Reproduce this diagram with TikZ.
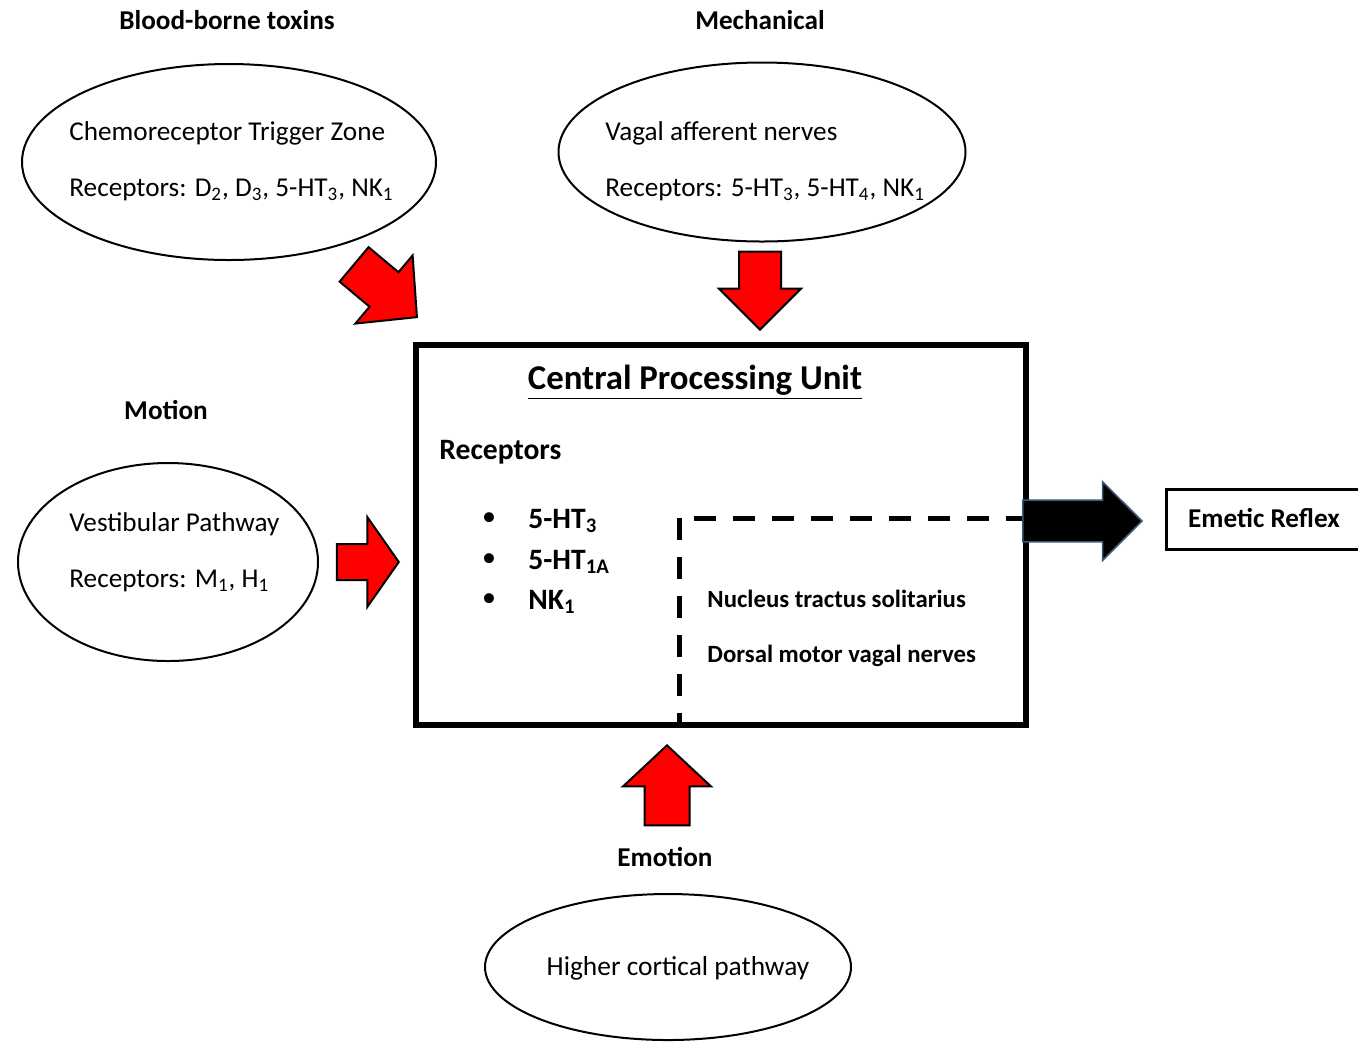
\documentclass[tikz,border=0pt]{standalone}
\usepackage{fontspec}
\setmainfont{Carlito}
\usetikzlibrary{shapes.geometric,shapes.arrows}
\begin{document}
\begin{tikzpicture}[x=0.5pt,y=-0.5pt,
  oval/.style={draw, ellipse, line width=1pt, inner sep=0pt},
  head/.style={font=\fontsize{13.6}{15}\selectfont\bfseries, inner sep=0pt},
  txt/.style={font=\fontsize{13.6}{15}\selectfont, anchor=base west, inner sep=0pt},
  btxt/.style={font=\fontsize{14.8}{16}\selectfont\bfseries, anchor=base west, inner sep=0pt},
  stxt/.style={font=\fontsize{12.4}{14}\selectfont\bfseries, anchor=base west, inner sep=0pt},
  blockarrow/.style={single arrow, anchor=tip, inner xsep=0pt, text height=0pt, text depth=0pt},
  redarrow/.style={blockarrow, draw=black, fill=red, line width=1pt},
  dashline/.style={line width=2.5pt, dash pattern=on 11pt off 8.5pt}
]
\useasboundingbox (0,0) rectangle (1358,1041);

% ellipses
\node[oval, minimum width=207pt, minimum height=98pt] (ctz) at (229,162) {};
\node[oval, minimum width=203.5pt, minimum height=89.5pt] (vagal) at (762,152) {};
\node[oval, minimum width=150pt, minimum height=99pt] (vest) at (168,562) {};
\node[oval, minimum width=183pt, minimum height=73pt] (cort) at (668,967) {};

% headings
\node[head] (hblood) at (227,20) {Blood-borne toxins};
\node[head] (hmech) at (760,20) {Mechanical};
\node[head] (hmotion) at (166,410) {Motion};
\node[head] (hemotion) at (665,857) {Emotion};

% ellipse texts
\node[txt] (ctz1) at (69,140) {Chemoreceptor Trigger Zone};
\node[txt] (ctz2) at (69,196) {Receptors: D\textsubscript{2}, D\textsubscript{3}, 5-HT\textsubscript{3}, NK\textsubscript{1}};
\node[txt] (vag1) at (605,140) {Vagal afferent nerves};
\node[txt] (vag2) at (605,196) {Receptors: 5-HT\textsubscript{3}, 5-HT\textsubscript{4}, NK\textsubscript{1}};
\node[txt] (ves1) at (69,531) {Vestibular Pathway};
\node[txt] (ves2) at (69,587) {Receptors: M\textsubscript{1}, H\textsubscript{1}};
\node[font=\fontsize{13.7}{15}\selectfont, inner sep=0pt] (cort1) at (678,968) {Higher cortical pathway};

% central box
\node[draw, line width=3pt, minimum width=305pt, minimum height=190pt, inner sep=0pt] (cpu) at (721,535) {};
\node[font=\fontsize{17.4}{19}\selectfont\bfseries, inner sep=0pt] (title) at (695,382) {\underline{Central Processing Unit}};
\node[btxt] (rec) at (439,459) {Receptors};
\node[inner sep=0pt, font=\fontsize{14}{16}\selectfont] (b1) at (489,519) {\textbullet};
\node[inner sep=0pt, font=\fontsize{14}{16}\selectfont] (b2) at (489,560) {\textbullet};
\node[inner sep=0pt, font=\fontsize{14}{16}\selectfont] (b3) at (489,600) {\textbullet};
\node[btxt] (r1) at (528,528) {5-HT\textsubscript{3}};
\node[btxt] (r2) at (528,569) {5-HT\textsubscript{1A}};
\node[btxt] (r3) at (528,609) {NK\textsubscript{1}};
\node[stxt] (nts) at (707,607) {Nucleus tractus solitarius};
\node[stxt] (dmv) at (707,662) {Dorsal motor vagal nerves};

% dashed region
\coordinate (dc) at (679,518);
\coordinate (hs) at (694,518);
\draw[dashline] (hs) -- (cpu.east |- hs);
\draw[dashline] (dc) -- (dc |- cpu.south);

% emetic reflex
\node[draw, line width=1.5pt, minimum width=98pt, minimum height=30pt, inner sep=0pt] (emetic) at (1264,519) {};
\node[font=\fontsize{13.6}{15}\selectfont\bfseries, inner sep=0pt] (emtxt) at (1264,518) {Emetic Reflex};

% red block arrows
\node[redarrow, rotate=-40, minimum height=41pt, inner ysep=10.75pt, single arrow head extend=11pt, single arrow tip angle=92] (adiag) at (418,318) {};
\node[redarrow, rotate=-90, minimum height=39pt, inner ysep=10pt, single arrow head extend=10pt, single arrow tip angle=90] (adown) at (760,331) {};
\node[redarrow, minimum height=31pt, inner ysep=8.5pt, single arrow head extend=13.5pt, single arrow tip angle=110] (aright) at (400,562) {};
\node[redarrow, rotate=90, minimum height=40pt, inner ysep=10.75pt, single arrow head extend=10.75pt, single arrow tip angle=94] (aup) at (667,744) {};

% black output arrow
\node[blockarrow, draw={rgb,255:red,60;green,85;blue,120}, fill=black, line width=0.8pt, minimum height=59.5pt, inner ysep=10pt, single arrow head extend=9.25pt, single arrow tip angle=90] (aout) at (1143,521) {};
\end{tikzpicture}
\end{document}
